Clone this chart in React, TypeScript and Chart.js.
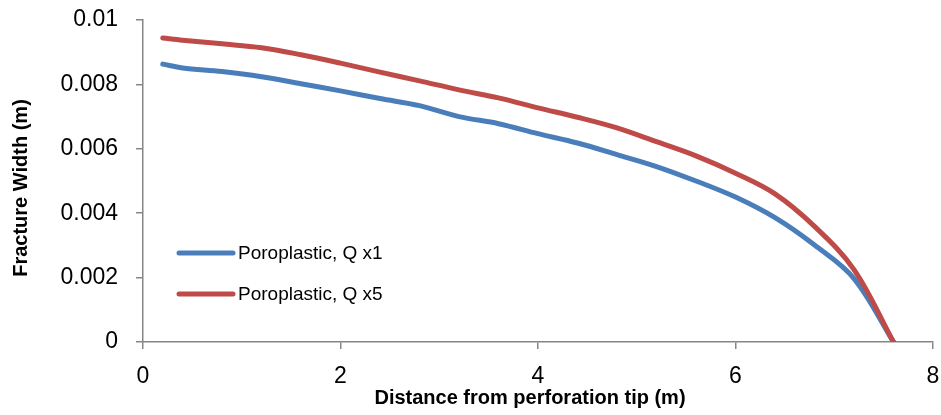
import React, { useEffect, useRef } from "react";
import { Chart, registerables } from "chart.js";

Chart.register(...registerables);

const xValues = [0.2, 0.4, 0.8, 1.2, 1.6, 2.0, 2.4, 2.8, 3.2, 3.6, 4.0, 4.4, 4.8, 5.2, 5.6, 6.0, 6.4, 6.8, 7.2, 7.6];
const q1Values = [0.00863, 0.00851, 0.0084, 0.00824, 0.00802, 0.0078, 0.00756, 0.00734, 0.007, 0.00678, 0.00647, 0.00618, 0.00582, 0.00545, 0.005, 0.0045, 0.00386, 0.00301, 0.00197, 0];
const q5Values = [0.00944, 0.00937, 0.00926, 0.00914, 0.00892, 0.00866, 0.00838, 0.00811, 0.00783, 0.00758, 0.00727, 0.00698, 0.00665, 0.00622, 0.00578, 0.00524, 0.0046, 0.00359, 0.00225, 0];
const seriesLabels = ["Poroplastic, Q x1", "Poroplastic, Q x5"];
const seriesColors = ["#4A7EBB", "#BE4B48"];
const xTickValues = [0, 2, 4, 6, 8];
const yTickValues = [0, 0.002, 0.004, 0.006, 0.008, 0.01];
const yTickLabels = ["0", "0.002", "0.004", "0.006", "0.008", "0.01"];
const xTitle = "Distance from perforation tip (m)";
const yTitle = "Fracture Width (m)";

const FONT = "'Liberation Sans', Arial, sans-serif";
const AXIS_COLOR = "#868686";

const insideLegend = {
  id: "insideLegend",
  afterDraw(chart: any, _args: any, opts: any) {
    const ctx = chart.ctx;
    ctx.save();
    chart.data.datasets.forEach((ds: any, i: number) => {
      const y = opts.y + i * opts.spacing;
      ctx.beginPath();
      ctx.strokeStyle = ds.borderColor;
      ctx.lineWidth = ds.borderWidth;
      ctx.lineCap = "round";
      ctx.moveTo(opts.x, y);
      ctx.lineTo(opts.x + opts.lineLen, y);
      ctx.stroke();
      ctx.fillStyle = "#000";
      ctx.font = opts.font;
      ctx.textBaseline = "middle";
      ctx.textAlign = "left";
      ctx.fillText(ds.label, opts.x + opts.lineLen + opts.gap, y + 1);
    });
    ctx.restore();
  },
};

const axisTitles = {
  id: "axisTitles",
  afterDraw(chart: any, _args: any, opts: any) {
    const ctx = chart.ctx;
    ctx.save();
    ctx.fillStyle = "#000";
    ctx.font = opts.font;
    ctx.textAlign = "center";
    ctx.textBaseline = "middle";
    ctx.fillText(opts.xText, opts.xX, opts.xY);
    ctx.translate(opts.yX, opts.yY);
    ctx.rotate(-Math.PI / 2);
    ctx.fillText(opts.yText, 0, 0);
    ctx.restore();
  },
};

const noScalePadding = (s: any) => {
  s.paddingTop = 0;
  s.paddingBottom = 0;
  s.paddingLeft = 0;
  s.paddingRight = 0;
};

export default function App() {
  const ref = useRef<HTMLCanvasElement | null>(null);
  useEffect(() => {
    if (!ref.current) return;
    const chart = new Chart(ref.current, {
      type: "line",
      data: {
        datasets: [
          {
            label: seriesLabels[0],
            data: xValues.map((x, i) => ({ x, y: q1Values[i] })),
            borderColor: seriesColors[0],
            backgroundColor: seriesColors[0],
            borderWidth: 5,
            borderCapStyle: "round",
            borderJoinStyle: "round",
            pointRadius: 0,
            tension: 0.35,
            order: 1,
          },
          {
            label: seriesLabels[1],
            data: xValues.map((x, i) => ({ x, y: q5Values[i] })),
            borderColor: seriesColors[1],
            backgroundColor: seriesColors[1],
            borderWidth: 5,
            borderCapStyle: "round",
            borderJoinStyle: "round",
            pointRadius: 0,
            tension: 0.35,
            order: 0,
          },
        ],
      },
      options: {
        animation: false,
        responsive: false,
        devicePixelRatio: 1,
        layout: { padding: { top: 20, right: 8, left: 0, bottom: 0 } },
        plugins: {
          legend: { display: false },
          tooltip: { enabled: false },
          insideLegend: {
            x: 179,
            y: 253,
            spacing: 41,
            lineLen: 54,
            gap: 5,
            font: `19px ${FONT}`,
          },
          axisTitles: {
            font: `bold 20px ${FONT}`,
            xText: xTitle,
            xX: 530,
            xY: 398,
            yText: yTitle,
            yX: 21,
            yY: 188,
          },
        } as any,
        scales: {
          x: {
            type: "linear",
            min: 0,
            max: 8,
            afterBuildTicks: (s: any) => {
              s.ticks = xTickValues.map((v) => ({ value: v }));
            },
            afterFit: (s: any) => {
              s.height = 73;
              noScalePadding(s);
            },
            ticks: {
              color: "#000",
              font: { family: FONT, size: 23 },
              padding: 14,
              maxRotation: 0,
              callback: (v: any) => String(v),
            },
            grid: {
              display: true,
              drawOnChartArea: false,
              drawTicks: true,
              tickLength: 7,
              color: AXIS_COLOR,
              lineWidth: 1.5,
            },
            border: { display: true, color: AXIS_COLOR, width: 1.5 },
            title: { display: false },
          },
          y: {
            type: "linear",
            min: 0,
            max: 0.01,
            afterBuildTicks: (s: any) => {
              s.ticks = yTickValues.map((v) => ({ value: v }));
            },
            afterFit: (s: any) => {
              s.width = 143;
              noScalePadding(s);
            },
            ticks: {
              color: "#000",
              font: { family: FONT, size: 23 },
              padding: 18,
              callback: (v: any) => {
                const idx = yTickValues.findIndex((t) => Math.abs(t - v) < 1e-9);
                return idx >= 0 ? yTickLabels[idx] : "";
              },
            },
            grid: {
              display: true,
              drawOnChartArea: false,
              drawTicks: true,
              tickLength: 7,
              color: AXIS_COLOR,
              lineWidth: 1.5,
            },
            border: { display: true, color: AXIS_COLOR, width: 1.5 },
            title: { display: false },
          },
        },
      },
      plugins: [insideLegend, axisTitles],
    });
    return () => chart.destroy();
  }, []);
  return (
    <div style={{ position: "absolute", left: 0, top: 0, width: 941, height: 415, background: "#fff" }}>
      <canvas ref={ref} width={941} height={415} style={{ display: "block" }} />
    </div>
  );
}
